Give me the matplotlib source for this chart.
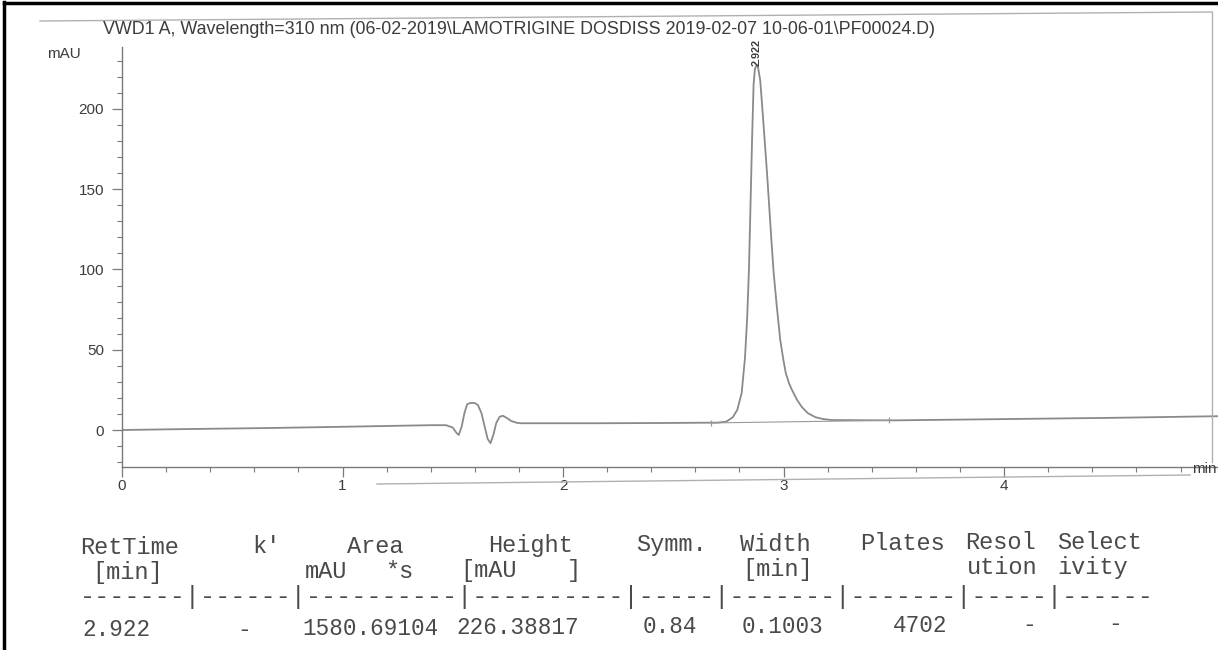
import matplotlib
matplotlib.use("Agg")
import matplotlib.pyplot as plt
from matplotlib.lines import Line2D
from matplotlib.ticker import MultipleLocator

# chromatogram trace (time in min, signal in mAU)
trace_time = [0.00, 0.30, 0.65, 1.00, 1.40, 1.47, 1.50, 1.515, 1.527, 1.54,
              1.553, 1.565, 1.578, 1.600, 1.614, 1.630, 1.644, 1.658, 1.671, 1.684,
              1.697, 1.712, 1.727, 1.745, 1.765, 1.790, 1.810, 2.16, 2.50, 2.70,
              2.74, 2.77, 2.79, 2.81, 2.825, 2.835, 2.843, 2.850, 2.857, 2.864,
              2.870, 2.877, 2.884, 2.894, 2.904, 2.914, 2.925, 2.935, 2.945, 2.955,
              2.970, 2.985, 3.000, 3.010, 3.025, 3.038, 3.060, 3.083, 3.110, 3.144,
              3.180, 3.220, 3.50, 4.00, 4.50, 4.97]
trace_mau = [0.0, 0.6, 1.2, 2.0, 3.0, 3.0, 1.5, -1.5, -3.1, 2.0,
             10.6, 16.0, 16.8, 16.8, 15.5, 10.5, 2.5, -5.5, -8.2, -3.0,
             4.3, 8.2, 8.9, 7.5, 5.6, 4.5, 4.2, 4.2, 4.4, 4.6,
             5.2, 8.0, 12.5, 23.0, 45.0, 70.0, 100.0, 140.0, 180.0, 215.0,
             225.0, 227.0, 226.0, 218.0, 200.0, 181.0, 160.0, 139.0, 118.0, 98.0,
             76.0, 56.0, 43.0, 35.5, 29.0, 25.0, 19.0, 14.3, 10.5, 8.0,
             6.8, 6.2, 6.0, 6.8, 7.6, 8.6]

# integration baseline under the peak
base_time = [2.67, 3.48]
base_mau = [4.4, 6.0]

peak_time = 2.877
peak_mau = 227.0
peak_label = "2.922"

x_ticks = [0, 1, 2, 3, 4]
y_ticks = [0, 50, 100, 150, 200]

title = r"VWD1 A, Wavelength=310 nm (06-02-2019\LAMOTRIGINE DOSDISS 2019-02-07 10-06-01\PF00024.D)"

# results table
head1 = ["RetTime", "k'", "Area", "Height", "Symm.", "Width", "Plates", "Resol", "Select"]
head1_x = [80, 252, 347, 488, 636, 740, 860, 965, 1057]
head2 = ["[min]", "mAU", "*s", "[mAU", "]", "[min]", "ution", "ivity"]
head2_x = [92, 305, 385, 460, 567, 742, 967, 1057]
dashes = "-------|------|----------|----------|-----|-------|-------|-----|------"
values = ["2.922", "-", "1580.69104", "226.38817", "0.84", "0.1003", "4702", "-", "-"]
values_x = [82, 237, 302, 456, 643, 742, 893, 1022, 1108]

W, H = 1218, 650
fig = plt.figure(figsize=(W / 100, H / 100), dpi=100)


def fx(px):
    return px / W


def fy(py):
    return 1 - py / H


gray = "#7a7a7a"
txt = "#3c3c3c"

ax = fig.add_axes([fx(122), fy(467), 1 - fx(122), fy(47) - fy(467)])
ax.plot(trace_time, trace_mau, color="#8a8a8a", lw=1.3, solid_joinstyle="round")
ax.plot(base_time, base_mau, color="#9a9a9a", lw=0.8, marker="|", ms=5, mew=0.9)
ax.annotate(peak_label, (peak_time, peak_mau), xytext=(0, 0), textcoords="offset points",
            rotation=90, ha="center", va="bottom", fontsize=7.8, color=txt,
            fontfamily="Liberation Sans", fontweight="bold")

ax.set_xlim(0, 4.97)
ax.set_ylim(-23.05, 238.6)
ax.set_xticks(x_ticks)
ax.set_yticks(y_ticks)
ax.xaxis.set_minor_locator(MultipleLocator(0.2))
ax.yaxis.set_minor_locator(MultipleLocator(10))
for s in ["top", "right"]:
    ax.spines[s].set_visible(False)
for s in ["left", "bottom"]:
    ax.spines[s].set_color(gray)
    ax.spines[s].set_linewidth(1.0)
ax.tick_params(which="major", length=7, width=0.9, color=gray, labelcolor=txt, labelsize=11)
ax.tick_params(which="minor", length=3.5, width=0.8, color=gray)
ax.tick_params(axis="x", pad=2)
ax.tick_params(axis="y", pad=6)
for lab in ax.get_xticklabels() + ax.get_yticklabels():
    lab.set_fontfamily("Liberation Sans")

fig.text(fx(47), fy(54), "mAU", fontsize=11, color=txt, va="center", family="Liberation Sans")
fig.text(fx(1217), fy(469), "min", fontsize=11, color=txt, va="center", ha="right",
         family="Liberation Sans")
fig.text(fx(103), fy(29), title, fontsize=12.9, color=txt, va="center", family="Liberation Sans")

# page frame and scan borders
frame = "#b0b0b0"
fig.add_artist(Line2D([fx(40), fx(1212)], [fy(21), fy(12)], color=frame, lw=1.0))
fig.add_artist(Line2D([fx(1212), fx(1212)], [fy(12), fy(462)], color=frame, lw=1.0))
fig.add_artist(Line2D([fx(377), fx(1190)], [fy(484), fy(475)], color=frame, lw=1.0))
fig.add_artist(Line2D([fx(4), fx(4)], [fy(2), fy(650)], color="black", lw=2.5))
fig.add_artist(Line2D([fx(4), fx(1218)], [fy(3), fy(3)], color="black", lw=2.5))

# table
mono = dict(family="Liberation Mono", color="#4a4a4a", va="center", fontsize=17)
mono_v = dict(mono, fontsize=16.3)


def tilt(y, x):
    return fy(y - 0.006 * (x - 80))


for s, x in zip(head1, head1_x):
    fig.text(fx(x), tilt(548, x), s, **mono)
for s, x in zip(head2, head2_x):
    fig.text(fx(x), tilt(573, x), s, **mono)
fig.text(fx(80), fy(597), dashes, family="Liberation Mono", color="#4a4a4a", va="center",
         fontsize=18.1)
for s, x in zip(values, values_x):
    fig.text(fx(x), tilt(630, x), s, **mono_v)

fig.savefig("out.png", dpi=100)
